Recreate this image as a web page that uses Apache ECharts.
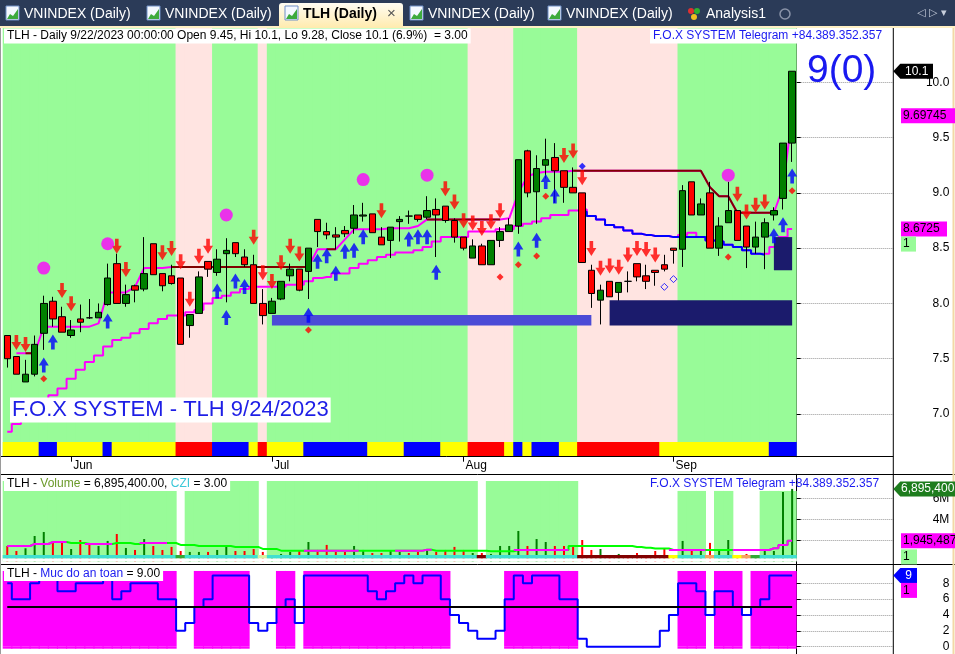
<!DOCTYPE html>
<html>
<head>
<meta charset="utf-8">
<title>TLH (Daily)</title>
<script src="https://cdn.jsdelivr.net/npm/echarts@6/dist/echarts.min.js"></script>
<style>
  html, body { margin: 0; padding: 0; background: #fff; }
  #chart { width: 955px; height: 654px; }
</style>
</head>
<body>
<div id="chart"></div>
<script>
// ---- data ----
const dates = [
  '05-23', '05-24', '05-25', '05-26', '05-29', '05-30', '05-31',
  '06-01', '06-02', '06-05', '06-06', '06-07', '06-08', '06-09', '06-12', '06-13', '06-14', '06-15',
  '06-16', '06-19', '06-20', '06-21', '06-22', '06-23', '06-26', '06-27', '06-28', '06-29', '06-30',
  '07-03', '07-04', '07-05', '07-06', '07-07', '07-10', '07-11', '07-12', '07-13', '07-14', '07-17',
  '07-18', '07-19', '07-20', '07-21', '07-24', '07-25', '07-26', '07-27', '07-28', '07-31',
  '08-01', '08-02', '08-03', '08-04', '08-07', '08-08', '08-09', '08-10', '08-11', '08-14', '08-15',
  '08-16', '08-17', '08-18', '08-21', '08-22', '08-23', '08-24', '08-25', '08-28', '08-29', '08-30', '08-31',
  '09-05', '09-06', '09-07', '09-08', '09-11', '09-12', '09-13', '09-14', '09-15', '09-18', '09-19',
  '09-20', '09-21', '09-22'
].map((d) => '2023-' + d);

// [open, close, low, high]
const candles = [
  [7.71, 7.50, 7.42, 7.71], [7.52, 7.36, 7.36, 7.52], [7.29, 7.36, 7.29, 7.49], [7.36, 7.63, 7.34, 7.71],
  [7.73, 8.00, 7.58, 8.07], [8.02, 7.86, 7.79, 8.06], [7.88, 7.74, 7.74, 7.97], [7.71, 7.76, 7.69, 7.85],
  [7.86, 7.83, 7.74, 7.99], [7.87, 7.87, 7.86, 8.04], [7.87, 7.92, 7.87, 8.00], [7.99, 8.23, 7.98, 8.36],
  [8.36, 8.00, 8.00, 8.45], [8.00, 8.08, 7.97, 8.17], [8.16, 8.12, 8.01, 8.17], [8.13, 8.27, 8.11, 8.60],
  [8.54, 8.26, 8.26, 8.54], [8.27, 8.16, 8.11, 8.27], [8.25, 8.18, 8.17, 8.35], [8.23, 7.63, 7.63, 8.23],
  [7.80, 7.90, 7.69, 7.90], [7.91, 8.24, 7.91, 8.29], [8.38, 8.31, 8.24, 8.38], [8.28, 8.40, 8.25, 8.49],
  [8.45, 8.48, 8.01, 8.59], [8.55, 8.45, 8.42, 8.55], [8.42, 8.35, 8.33, 8.49], [8.35, 8.00, 8.00, 8.44],
  [8.00, 7.89, 7.81, 8.13], [7.91, 8.02, 7.91, 8.05], [8.04, 8.20, 8.03, 8.20], [8.25, 8.31, 8.20, 8.36],
  [8.31, 8.12, 8.11, 8.31], [8.29, 8.50, 8.04, 8.50], [8.76, 8.65, 8.51, 8.76], [8.65, 8.62, 8.58, 8.73],
  [8.62, 8.60, 8.49, 8.69], [8.66, 8.63, 8.60, 8.70], [8.68, 8.80, 8.63, 8.89], [8.79, 8.80, 8.74, 8.91],
  [8.81, 8.64, 8.64, 8.81], [8.60, 8.53, 8.53, 8.69], [8.57, 8.69, 8.41, 8.69], [8.74, 8.76, 8.56, 8.79],
  [8.79, 8.79, 8.72, 8.84], [8.80, 8.76, 8.74, 8.80], [8.78, 8.84, 8.76, 8.97], [8.85, 8.80, 8.42, 8.95],
  [8.88, 8.75, 8.73, 8.88], [8.75, 8.60, 8.55, 8.77], [8.60, 8.50, 8.48, 8.60], [8.41, 8.52, 8.41, 8.58],
  [8.52, 8.35, 8.35, 8.54], [8.35, 8.57, 8.35, 8.57], [8.57, 8.65, 8.51, 8.69], [8.65, 8.71, 8.65, 8.77],
  [8.70, 9.30, 8.63, 9.30], [9.38, 9.00, 8.96, 9.39], [9.01, 9.22, 8.72, 9.34], [9.25, 9.30, 9.13, 9.49],
  [9.32, 9.20, 8.91, 9.45], [9.20, 9.05, 8.91, 9.20], [9.05, 9.00, 9.00, 9.23], [9.00, 8.37, 8.37, 9.00],
  [8.30, 8.09, 7.96, 8.35], [8.03, 8.12, 7.81, 8.17], [8.20, 8.06, 8.06, 8.20], [8.10, 8.19, 8.02, 8.19],
  [8.20, 8.20, 8.10, 8.29], [8.36, 8.24, 8.20, 8.36], [8.25, 8.20, 8.13, 8.35], [8.30, 8.28, 8.16, 8.30],
  [8.35, 8.31, 8.29, 8.44], [8.50, 8.48, 8.36, 8.50], [8.49, 9.02, 8.33, 9.07], [9.10, 8.80, 8.80, 9.10],
  [8.80, 8.90, 8.80, 8.95], [9.00, 8.50, 8.50, 9.10], [8.50, 8.70, 8.43, 8.78], [8.73, 8.84, 8.73, 9.10],
  [8.84, 8.57, 8.57, 8.84], [8.70, 8.51, 8.32, 8.70], [8.51, 8.60, 8.45, 8.74], [8.60, 8.73, 8.31, 8.77],
  [8.80, 8.84, 8.75, 8.87], [8.95, 9.45, 8.85, 9.45], [9.45, 10.10, 9.28, 10.10]
];

const volumes = [
  1460000, 980000, 1240000, 2410000, 2790000, 1840000, 1840000, 1170000, 2030000, 1750000,
  1460000, 1940000, 2600000, 1270000, 1080000, 2120000, 1460000, 1080000, 1370000, 980000,
  890000, 890000, 890000, 1080000, 1370000, 980000, 980000, 1170000, 890000, 600000,
  700000, 890000, 980000, 1840000, 1080000, 1560000, 890000, 890000, 1460000, 1080000,
  790000, 790000, 980000, 890000, 790000, 890000, 1080000, 890000, 1080000, 1370000,
  1080000, 790000, 790000, 700000, 1460000, 1460000, 2890000, 1460000, 2120000, 1840000,
  1460000, 1460000, 1460000, 2030000, 1080000, 1170000, 400000, 700000, 500000, 790000,
  600000, 980000, 1240000, 500000, 1940000, 980000, 1080000, 1750000, 1080000, 2030000,
  600000, 700000, 600000, 980000, 980000, 6600000, 6895400
];

const volumeMa = [
  1460000, 1460000, 1460000, 1650000, 1650000, 1840000, 1840000, 1740000, 1740000, 1650000,
  1650000, 1650000, 1740000, 1740000, 1650000, 1740000, 1740000, 1740000, 1740000, 1560000,
  1560000, 1460000, 1460000, 1460000, 1460000, 1370000, 1370000, 1370000, 1180000, 1180000,
  1010000, 1010000, 1010000, 1010000, 1010000, 1010000, 1010000, 1010000, 1010000, 1010000,
  1010000, 1010000, 1010000, 1010000, 1010000, 1010000, 1110000, 1010000, 1010000, 1010000,
  1010000, 1010000, 1010000, 950000, 950000, 950000, 1080000, 1080000, 1080000, 1080000,
  1080000, 1080000, 1460000, 1460000, 1460000, 1460000, 1460000, 1460000, 1460000, 1370000,
  1300000, 1220000, 1220000, 1080000, 1080000, 1080000, 1080000, 1080000, 1080000, 1080000,
  1080000, 1080000, 1080000, 1080000, 1240000, 1560000, 1945487
];
// 1 = the volume average is drawn magenta on that bar
const volumeMaHot = ['1111111', '00', '111', '000', '111', '000000000000000', '111111', '0000',
  '1111', '000000000', '111111', '00000000000', '1111', '000', '1111111'].join('');

const safetyLevel = [
  8, 6, 6, 8, 9, 9, 7, 7, 8, 8,
  8, 9, 6, 7, 8, 8, 8, 6, 6, 2,
  3, 5, 6, 9, 9, 9, 9, 3, 2, 3,
  5, 6, 3, 9, 9, 9, 9, 9, 9, 9,
  7, 6, 7, 8, 9, 8, 9, 9, 6, 4,
  3, 2, 1, 1, 2, 6, 9, 8, 9, 9,
  9, 6, 6, 1, 0, 0, 0, 0, 0, 0,
  0, 0, 2, 4, 8, 8, 7, 4, 7, 7,
  5, 4, 5, 6, 9, 9, 9
];
const safetyThreshold = 5;

// G = green backdrop, P = pink backdrop
const trendZone = ['GGGGGGGGGGGGGGGGGGG', 'PPPP', 'GGGGG', 'P', 'GGGGGGGGGGGGGGGGGGGGGG', 'PPPPP',
  'GGGGGGG', 'PPPPPPPPPPP', 'GGGGGGGGGGGGG'].join('');
// Y yellow, B blue, R red cells under the price pane
const signalStrip = ['YYYY', 'BB', 'YYYYY', 'B', 'YYYYYYY', 'RRRR', 'BBBB', 'Y', 'R', 'YYYY', 'BBBBBBB',
  'YYYY', 'BBBB', 'YYY', 'RRRR', 'Y', 'B', 'Y', 'BBB', 'YY', 'RRRRRRRRR', 'YYYYYYYYYYYY', 'BBB'].join('');
// T tall, S short, - none (volume pane backdrop)
const volumeZone = ['TTTTTTTTTTTTTTTTTTT', '-', 'TTTTTTTT', '-', 'TTTTTTTTTTTTTTTTTTTTTTT', '-',
  'TTTTTTTTTT', '-----------', 'SSS', '-', 'SS', '---', 'SSSS'].join('');
const volumeStrip = ['CCCCCCCCCCCCCCCCCCC', 'g', 'CCCCCCCC', 'l', 'CCCCCCCCCCCCCCCCCCCCCCC', 'm',
  'CCCCCCCCCC', 'mmmmmmmmmm', 'y', 'CCC', 'o', 'CC', 'y', 'o', 'g', 'CCCC'].join('');

const upperLine = [
  null, 7.55, 7.55, 7.55, 7.79, 7.79, 7.79, 7.79, 7.79, 7.79,
  7.82, 8.10, 8.10, 8.10, 8.15, 8.32, 8.32, 8.32, 8.33, 8.33,
  8.33, 8.33, 8.33, 8.33, 8.33, 8.33, 8.33, 8.33, 8.33, 8.33,
  8.33, 8.33, 8.33, 8.33, 8.49, 8.49, 8.49, 8.58, 8.67, 8.67,
  8.67, 8.67, 8.68, 8.68, 8.68, 8.70, 8.76, 8.76, 8.76, 8.76,
  8.76, 8.76, 8.76, 8.76, 8.76, 8.77, 9.00, 9.15, 9.18, 9.19,
  9.19, 9.19, 9.20, 9.20, 9.20, 9.20, 9.20, 9.20, 9.20, 9.20,
  9.20, 9.20, 9.20, 9.20, 9.20, 9.20, 9.20, 9.05, 8.97, 8.97,
  8.82, 8.82, 8.82, 8.82, 8.82, 9.05, 9.69745
];
const stopLine = [
  null, null, 7.55, 7.55, null, null, null, null, null, null,
  null, null, null, null, null, null, null, null, 8.33, 8.33,
  8.33, 8.33, 8.33, 8.33, 8.33, 8.33, 8.33, 8.33, 8.33, 8.33,
  8.33, 8.33, 8.33, 8.33, null, 8.49, 8.49, null, null, null,
  null, null, null, null, null, null, 8.76, 8.76, 8.76, 8.76,
  8.76, 8.76, 8.76, 8.76, 8.76, null, null, null, null, null,
  null, null, 9.20, 9.20, 9.20, 9.20, 9.20, 9.20, 9.20, 9.20,
  9.20, 9.20, 9.20, 9.20, 9.20, 9.20, 9.20, 9.05, 8.97, 8.97,
  8.82, 8.82, 8.82, 8.82, 8.82, null, null
];
const baseLine = [
  6.84, 6.91, 6.98, 7.04, 7.10, 7.17, 7.23, 7.32, 7.40, 7.47,
  7.53, 7.61, 7.67, 7.69, 7.73, 7.77, 7.82, 7.86, 7.89, 7.89,
  7.92, 7.94, 8.00, 8.05, 8.07, 8.10, 8.13, 8.15, 8.15, 8.15,
  8.15, 8.17, 8.17, 8.20, 8.23, 8.24, 8.27, 8.27, 8.32, 8.36,
  8.39, 8.42, 8.44, 8.46, 8.46, 8.48, 8.51, 8.56, 8.60, 8.60,
  8.60, 8.65, 8.65, 8.65, 8.67, 8.67, 8.70, 8.72, 8.74, 8.77,
  8.80, 8.80, 8.84, 8.85, 8.79, 8.76, 8.71, 8.69, 8.66, 8.63,
  8.62, 8.61, 8.61, 8.60, 8.62, 8.64, 8.60, 8.57, 8.56, 8.53,
  8.51, 8.48, 8.45, 8.45, 8.51, 8.60, 8.6725
];
// [bar index, value]
const blueLine = [
  [63, 8.83], [64, 8.79], [65, 8.76], [66, 8.71], [67, 8.69], [68, 8.66], [69, 8.63], [70, 8.62],
  [71, 8.61], [72, 8.61], [73, 8.60], [74, 8.60], [75, 8.60], [76, 8.60], [77, 8.57], [78, 8.56],
  [79, 8.53], [80, 8.51], [81, 8.48], [82, 8.45], [83, 8.44]
];

// signals: [bar index, price at the tip]
const sellArrows = [
  [1, 7.58], [2, 7.56], [6, 8.05], [7, 7.93], [12, 8.45], [13, 8.24], [17, 8.39], [18, 8.43], [19, 8.31],
  [20, 7.97], [21, 8.36], [22, 8.45], [27, 8.53], [28, 8.21], [29, 8.13], [30, 8.30], [31, 8.45], [32, 8.38],
  [41, 8.77], [48, 8.97], [49, 8.85], [50, 8.68], [51, 8.66], [52, 8.61], [53, 8.67], [54, 8.77],
  [61, 9.27], [62, 9.31], [63, 9.07], [64, 8.43], [65, 8.25], [66, 8.27], [67, 8.26], [68, 8.37], [69, 8.43],
  [70, 8.42], [71, 8.37], [80, 8.92], [81, 8.76], [82, 8.82], [83, 8.85]
];
const buyArrows = [
  [4, 7.51], [5, 7.72], [11, 7.91], [23, 8.18], [24, 7.94], [25, 8.27], [26, 8.22], [33, 7.96], [34, 8.45],
  [35, 8.50], [36, 8.34], [37, 8.54], [38, 8.55], [39, 8.67], [44, 8.65], [45, 8.67], [46, 8.67], [47, 8.35],
  [56, 8.56], [58, 8.64], [59, 9.17], [60, 9.04], [84, 8.68], [85, 8.78], [86, 9.22]
];
const bigDots = [[4, 8.32], [11, 8.54], [24, 8.80], [39, 9.12], [46, 9.16], [79, 9.16]];
const redDots = [[4, 7.32], [33, 7.76], [54, 8.24], [56, 8.35], [58, 8.43], [59, 8.97], [79, 8.42], [86, 9.02]];
const blueDots = [[63, 9.24]];
const hollowDots = [[72, 8.15], [73, 8.22]];

// [from bar, to bar, low, high] and their kind
const zones = [[29, 64, 7.80, 7.895], [66, 86, 7.80, 8.03], [84, 86, 8.30, 8.60]];
const zoneKinds = ['light', 'dark', 'dark'];

const signalFlag = 1;
const czi = 3;

// ---- layout ----
const FONT = "'Liberation Sans', Arial, sans-serif";
const N = dates.length;
const GL = 2.7, GW = 794, AXIS_X = GL + GW + 96.6;
const PRICE = { top: 28, height: 428.7, min: 6.614, max: 10.491 };
const VOL = { top: 474.3, height: 90, min: -286000, max: 8286000 };
const SAFE = { top: 564.3, height: 89.7, min: -0.92, max: 10.4 };
const STRIP_TOP = 6.747;
const CELL_W = '112%'; // slightly wider than a slot so neighbouring cells leave no seam

const trendColors = { G: '#98FB98', P: '#FFE4E1' };
const stripColors = { Y: '#FFFF00', B: '#0000FF', R: '#FF0000' };
const volStripColors = { C: '#40E0D0', g: '#33AA33', l: '#D6F2A2', m: '#800000', y: '#FFFF00', o: '#F4A460' };
const zoneColors = { light: '#4B4BD6', dark: '#1B1B6C' };

const monthNames = ['Jan', 'Feb', 'Mar', 'Apr', 'May', 'Jun', 'Jul', 'Aug', 'Sep', 'Oct', 'Nov', 'Dec'];
const monthOf = (d) => +d.slice(5, 7);
const isMonthStart = (i) => i > 0 && monthOf(dates[i]) !== monthOf(dates[i - 1]);

const cell = (value, color) => ({ value, itemStyle: { color } });

const grid = (pane, right) => ({
  left: right ? GL + GW : GL,
  width: right ? AXIS_X - GL - GW : GW,
  top: pane.top,
  height: pane.height
});

const catAxis = (gridIndex, extra) => Object.assign({
  type: 'category', gridIndex, data: dates, boundaryGap: true,
  axisLine: { show: false }, axisTick: { show: false }, axisLabel: { show: false }, splitLine: { show: false }
}, extra || {});
const blankX = (gridIndex) => ({ type: 'value', gridIndex, show: false, min: 0, max: 1 });
const hiddenY = (gridIndex, pane) => ({ type: 'value', gridIndex, min: pane.min, max: pane.max, show: false, splitLine: { show: false } });
const sideY = (gridIndex, pane, ticks, fmt) => ({
  type: 'value', gridIndex, min: pane.min, max: pane.max, position: 'right',
  axisLine: { show: true, lineStyle: { color: '#000', width: 1 } },
  axisTick: { show: true, length: 4, customValues: ticks, lineStyle: { color: '#000' } },
  axisLabel: { customValues: ticks, formatter: fmt, align: 'right', margin: 56, color: '#000', fontSize: 12, fontFamily: FONT },
  splitLine: { show: true, lineStyle: { color: '#999', type: 'dotted', width: 1 } }
});

const DOWN_ARROW = 'path://M3.5,0 L7.5,0 L7.5,7 L11,7 L5.5,15 L0,7 L3.5,7 Z';
const UP_ARROW = 'path://M5.5,0 L11,8 L7.5,8 L7.5,15 L3.5,15 L3.5,8 L0,8 Z';

const series = [];
// price pane backdrop
series.push({
  type: 'bar', xAxisIndex: 0, yAxisIndex: 0, z: 0, barWidth: CELL_W, barGap: '-100%', silent: true,
  data: trendZone.split('').map((c) => cell(PRICE.max, trendColors[c]))
});
series.push({
  type: 'bar', xAxisIndex: 0, yAxisIndex: 0, z: 0, barWidth: CELL_W, barGap: '-100%', silent: true,
  data: signalStrip.split('').map((c) => cell(STRIP_TOP, stripColors[c]))
});
// indicator lines
const lineBase = { type: 'line', xAxisIndex: 1, yAxisIndex: 1, symbol: 'none', silent: true, z: 2 };
series.push(Object.assign({}, lineBase, { data: baseLine, step: 'middle', lineStyle: { color: '#FF00FF', width: 2 } }));
series.push(Object.assign({}, lineBase, { data: blueLine, step: 'middle', lineStyle: { color: '#0000FF', width: 2 } }));
series.push(Object.assign({}, lineBase, { data: upperLine, lineStyle: { color: '#FF00FF', width: 2 } }));
series.push(Object.assign({}, lineBase, { data: stopLine, lineStyle: { color: '#800000', width: 2 } }));
// candles
series.push({
  type: 'candlestick', xAxisIndex: 1, yAxisIndex: 1, z: 2, barWidth: 7, silent: true, data: candles,
  itemStyle: { color: '#008000', color0: '#FF0000', borderColor: '#000', borderColor0: '#000', borderColorDoji: '#000', borderWidth: 1 }
});
// support / resistance zones
series.push({
  type: 'custom', xAxisIndex: 1, yAxisIndex: 1, z: 3, silent: true, data: zones,
  encode: { x: [0, 1], y: [2, 3] },
  renderItem: (params, api) => {
    const a = api.coord([api.value(0), api.value(3)]);
    const b = api.coord([api.value(1), api.value(2)]);
    return {
      type: 'rect',
      shape: { x: a[0], y: a[1], width: b[0] - a[0], height: b[1] - a[1] },
      style: { fill: zoneColors[zoneKinds[params.dataIndex]] }
    };
  }
});
// signals
const marker = { type: 'scatter', xAxisIndex: 1, yAxisIndex: 1, z: 4, silent: true };
series.push(Object.assign({}, marker, { data: sellArrows, symbol: DOWN_ARROW, symbolSize: [10, 15], symbolOffset: [0, -7.5], itemStyle: { color: '#FF0000' } }));
series.push(Object.assign({}, marker, { data: buyArrows, symbol: UP_ARROW, symbolSize: [10, 15], symbolOffset: [0, 7.5], itemStyle: { color: '#0000FF' } }));
series.push(Object.assign({}, marker, { data: bigDots, symbol: 'circle', symbolSize: 13, itemStyle: { color: '#FF00FF' } }));
series.push(Object.assign({}, marker, { data: redDots, symbol: 'diamond', symbolSize: 7, itemStyle: { color: '#FF0000' } }));
series.push(Object.assign({}, marker, { data: blueDots, symbol: 'diamond', symbolSize: 7, itemStyle: { color: '#0000FF' } }));
series.push(Object.assign({}, marker, { data: hollowDots, symbol: 'diamond', symbolSize: 7, itemStyle: { color: 'rgba(0,0,0,0)', borderColor: '#0000FF', borderWidth: 1 } }));

// volume pane
series.push({
  type: 'bar', xAxisIndex: 3, yAxisIndex: 3, z: 0, barWidth: CELL_W, barGap: '-100%', silent: true,
  data: volumeZone.split('').map((c) => c === '-' ? null : cell(c === 'T' ? 7650000 : 6700000, '#98FB98'))
});
series.push({
  type: 'bar', xAxisIndex: 4, yAxisIndex: 4, z: 2, barWidth: 2, silent: true,
  data: volumes.map((v, i) => ({ value: v, itemStyle: { color: candles[i][1] > candles[i][0] ? '#008000' : '#FF0000' } }))
});
series.push({
  type: 'bar', xAxisIndex: 3, yAxisIndex: 3, z: 3, stack: 'strip', barWidth: CELL_W, barGap: '-100%', silent: true,
  data: dates.map(() => cell(286000, '#fff'))
});
series.push({
  type: 'bar', xAxisIndex: 3, yAxisIndex: 3, z: 3, stack: 'strip', barWidth: CELL_W, barGap: '-100%', silent: true,
  data: volumeStrip.split('').map((c) => cell(314000, volStripColors[c]))
});
series.push({
  type: 'line', xAxisIndex: 4, yAxisIndex: 4, z: 4, step: 'middle', symbol: 'none', silent: true,
  data: volumeMa, lineStyle: { color: '#00FF00', width: 2 }
});
series.push({
  type: 'line', xAxisIndex: 4, yAxisIndex: 4, z: 4, step: 'middle', symbol: 'none', silent: true,
  data: volumeMa.map((v, i) => volumeMaHot[i] === '1' ? v : null), lineStyle: { color: '#FF00FF', width: 2 }
});

// safety pane
series.push({
  type: 'bar', xAxisIndex: 6, yAxisIndex: 6, z: 0, stack: 'safe', barWidth: CELL_W, silent: true,
  data: safetyLevel.map((v) => v >= safetyThreshold ? cell(9.56, '#FF00FF') : null)
});
series.push({
  type: 'bar', xAxisIndex: 6, yAxisIndex: 6, z: 0, stack: 'safe', barWidth: CELL_W, silent: true,
  data: safetyLevel.map((v) => v >= safetyThreshold ? cell(-0.25, '#FF00FF') : null)
});
series.push({
  type: 'line', xAxisIndex: 6, yAxisIndex: 6, z: 2, step: 'middle', symbol: 'none', silent: true,
  data: safetyLevel, lineStyle: { color: '#0000FF', width: 2 },
  markLine: {
    silent: true, symbol: 'none', label: { show: false }, animation: false,
    lineStyle: { color: '#000', width: 2, type: 'solid' },
    data: [[{ coord: [0, safetyThreshold] }, { coord: [N - 1, safetyThreshold] }]]
  }
});

const option = {
  animation: false,
  backgroundColor: '#fff',
  grid: [grid(PRICE), grid(PRICE), grid(PRICE, true), grid(VOL), grid(VOL), grid(VOL, true), grid(SAFE), grid(SAFE, true)],
  xAxis: [
    catAxis(0),
    catAxis(1, {
      axisTick: { show: true, alignWithLabel: true, interval: (i) => isMonthStart(i), length: 5, lineStyle: { color: '#000' } },
      axisLabel: {
        show: true, interval: (i) => isMonthStart(i), formatter: (v) => monthNames[monthOf(v) - 1],
        align: 'left', margin: 3, padding: [0, 0, 0, 2], color: '#000', fontSize: 12, fontFamily: FONT
      }
    }),
    blankX(2),
    catAxis(3), catAxis(4),
    blankX(5),
    catAxis(6),
    blankX(7)
  ],
  yAxis: [
    hiddenY(0, PRICE), hiddenY(1, PRICE),
    sideY(2, PRICE, [7, 7.5, 8, 8.5, 9, 9.5, 10], (v) => v.toFixed(1)),
    hiddenY(3, VOL), hiddenY(4, VOL),
    sideY(5, VOL, [2000000, 4000000, 6000000], (v) => (v / 1e6) + 'M'),
    hiddenY(6, SAFE),
    sideY(7, SAFE, [0, 2, 4, 6, 8], (v) => String(v))
  ],
  series
};

const chart = echarts.init(document.getElementById('chart'));
chart.setOption(option);

// ---- overlay: tab strip, titles, separators, value tags ----
const g = [];
const txt = (x, y, text, size, fill, extra) => ({
  type: 'text', x, y, z: 100, silent: true,
  style: Object.assign({
    text, fill, font: size + 'px ' + FONT, verticalAlign: 'middle', textVerticalAlign: 'middle'
  }, extra || {})
});

g.push({ type: 'rect', z: 90, shape: { x: 0, y: 0, width: 955, height: 26 }, style: { fill: '#2B3B58' } });
g.push({ type: 'rect', z: 90, shape: { x: 0, y: 26, width: 955, height: 2 }, style: { fill: '#FFF0C4' } });
g.push({
  type: 'rect', z: 91, shape: { x: 279, y: 3, width: 124, height: 25, r: [3, 3, 0, 0] },
  style: { fill: new echarts.graphic.LinearGradient(0, 0, 0, 1, [{ offset: 0, color: '#FFFCF2' }, { offset: 1, color: '#FFEBAE' }]) }
});
const tabs = [['VNINDEX (Daily)', 24], ['VNINDEX (Daily)', 165], ['TLH (Daily)', 303], ['VNINDEX (Daily)', 428], ['VNINDEX (Daily)', 566]];
tabs.forEach(([label, x], k) => {
  const active = k === 2;
  g.push({ type: 'rect', z: 95, shape: { x: x - 18, y: 6, width: 13, height: 14 }, style: { fill: '#F4F8FF', stroke: '#6E8FC6', lineWidth: 1 } });
  g.push({ type: 'polygon', z: 96, shape: { points: [[x - 17, 19], [x - 14, 14], [x - 11, 16], [x - 6, 9], [x - 6, 19]] }, style: { fill: '#3DAA3D' } });
  g.push(txt(x, 14, label, 14, active ? '#000' : '#fff', active ? { font: 'bold 14px ' + FONT } : {}));
});
g.push(txt(387, 14, '\u00d7', 15, '#555'));
g.push({ type: 'circle', z: 95, shape: { cx: 691, cy: 11, r: 3 }, style: { fill: '#E03030' } });
g.push({ type: 'circle', z: 95, shape: { cx: 697, cy: 11, r: 3 }, style: { fill: '#30B030' } });
g.push({ type: 'circle', z: 95, shape: { cx: 694, cy: 17, r: 3 }, style: { fill: '#F0C020' } });
g.push(txt(706, 14, 'Analysis1', 14, '#fff'));
g.push({ type: 'circle', z: 95, shape: { cx: 785, cy: 14, r: 5 }, style: { fill: 'none', stroke: '#8A93A8', lineWidth: 1.5 } });
g.push(txt(917, 13, '\u25c1 \u25b7 \u25be', 11, '#C8CFDC', { font: "11px 'DejaVu Sans', sans-serif" }));

// pane frame
const hline = (y, x2) => ({ type: 'line', z: 50, silent: true, shape: { x1: 0, y1: y, x2, y2: y }, style: { stroke: '#000', lineWidth: 1 } });
g.push(hline(456.5, AXIS_X));
g.push(hline(474.5, 955));
g.push(hline(564.5, 955));
g.push({ type: 'line', z: 50, shape: { x1: AXIS_X, y1: 28, x2: AXIS_X, y2: 654 }, style: { stroke: '#000', lineWidth: 1 } });
g.push({ type: 'line', z: 50, shape: { x1: 953.5, y1: 28, x2: 953.5, y2: 654 }, style: { stroke: '#F2D9A6', lineWidth: 2 } });
g.push({ type: 'line', z: 50, shape: { x1: 0.5, y1: 28, x2: 0.5, y2: 654 }, style: { stroke: '#9A9A9A', lineWidth: 1 } });

// titles
const last = candles[N - 1];
const prevClose = candles[N - 2][1];
const pct = ((last[1] / prevClose - 1) * 100).toFixed(1);
const info = 'TLH - Daily 9/22/2023 00:00:00 Open ' + last[0] + ', Hi ' + last[3] + ', Lo ' + last[2] +
  ', Close ' + last[1] + ' (' + pct + '%)  = ' + czi.toFixed(2);
const boxed = { backgroundColor: '#fff', padding: [2, 3, 1, 3] };
g.push(txt(4, 36, info, 12, '#000', boxed));
g.push(txt(650, 36, 'F.O.X SYSTEM Telegram +84.389.352.357', 12, '#1A1AF0', boxed));
g.push(txt(807, 71, '9(0)', 39, '#1919F0'));
g.push(txt(10, 410, 'F.O.X SYSTEM - TLH 9/24/2023', 22, '#1E1EE6', { backgroundColor: '#fff', padding: [2, 2, 1, 2] }));

const lastVolume = volumes[N - 1];
g.push(txt(4, 484, '{k|TLH - }{g|Volume}{k| = ' + lastVolume.toLocaleString('en-US') + '.00, }{c|CZI}{k| = ' + czi.toFixed(2) + '}', 12, '#000', {
  backgroundColor: '#fff', padding: [1, 3, 1, 3],
  rich: { k: { fill: '#000', color: '#000' }, g: { fill: '#6B9A2A', color: '#6B9A2A' }, c: { fill: '#3CC8D8', color: '#3CC8D8' } }
}));
g.push(txt(650, 484, 'F.O.X SYSTEM Telegram +84.389.352.357', 12, '#1A1AF0'));
g.push(txt(4, 574, '{k|TLH - }{b|Muc do an toan}{k| = ' + safetyLevel[N - 1].toFixed(2) + '}', 12, '#000', {
  backgroundColor: '#fff', padding: [1, 3, 1, 3],
  rich: { k: { fill: '#000', color: '#000' }, b: { fill: '#2020F0', color: '#2020F0' } }
}));

// value tags on the right axis
const arrowTag = (y, text, fill, color, right) => {
  g.push({
    type: 'polygon', z: 60,
    shape: { points: [[AXIS_X, y], [AXIS_X + 7, y - 7.5], [right, y - 7.5], [right, y + 7.5], [AXIS_X + 7, y + 7.5]] },
    style: { fill }
  });
  g.push(txt((AXIS_X + 7 + right) / 2, y, text, 12, color, { align: 'center', textAlign: 'center' }));
};
const boxTag = (y, text, fill, w) => {
  g.push({ type: 'rect', z: 60, shape: { x: 901, y: y - 7.5, width: w, height: 15 }, style: { fill } });
  g.push(txt(903, y, text, 12, '#000'));
};
const yOf = (axis, v) => chart.convertToPixel({ yAxisIndex: axis }, v);

arrowTag(yOf(1, last[1]), String(last[1]), '#000', '#fff', 933);
boxTag(yOf(1, upperLine[N - 1]), String(upperLine[N - 1]), '#FF00FF', 54);
const baseY = yOf(1, baseLine[N - 1]);
boxTag(baseY, String(baseLine[N - 1]), '#FF00FF', 46);
boxTag(baseY + 15, String(signalFlag), '#98FB98', 15);

arrowTag(yOf(4, lastVolume), lastVolume.toLocaleString('en-US'), '#1E7D1E', '#fff', 955);
const maY = yOf(4, volumeMa[N - 1]);
boxTag(maY, Math.round(volumeMa[N - 1]).toLocaleString('en-US'), '#FF00FF', 54);
boxTag(maY + 16, String(signalFlag), '#98FB98', 16);

const safeY = yOf(6, safetyLevel[N - 1]);
arrowTag(safeY, String(safetyLevel[N - 1]), '#0000FF', '#fff', 917);
boxTag(safeY + 15, String(signalFlag), '#FF00FF', 16);

chart.setOption({ graphic: { elements: g } });
</script>
</body>
</html>
